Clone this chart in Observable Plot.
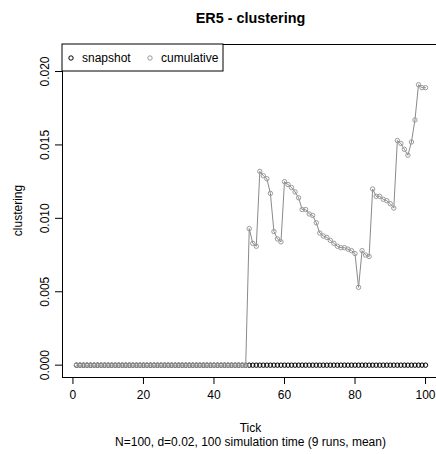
<!DOCTYPE html>
<html>
<head>
<meta charset="utf-8">
<script src="https://cdn.jsdelivr.net/npm/d3@7"></script>
<script src="https://cdn.jsdelivr.net/npm/@observablehq/plot@0.6"></script>
<style>
  html, body { margin: 0; padding: 0; background: white; }
</style>
</head>
<body>
<div id="chart"></div>
<script>
// ---- data ----
const ticks = [1,2,3,4,5,6,7,8,9,10,11,12,13,14,15,16,17,18,19,20,
  21,22,23,24,25,26,27,28,29,30,31,32,33,34,35,36,37,38,39,40,
  41,42,43,44,45,46,47,48,49,50,51,52,53,54,55,56,57,58,59,60,
  61,62,63,64,65,66,67,68,69,70,71,72,73,74,75,76,77,78,79,80,
  81,82,83,84,85,86,87,88,89,90,91,92,93,94,95,96,97,98,99,100];
const snapshot = [0,0,0,0,0,0,0,0,0,0,0,0,0,0,0,0,0,0,0,0,
  0,0,0,0,0,0,0,0,0,0,0,0,0,0,0,0,0,0,0,0,
  0,0,0,0,0,0,0,0,0,0,0,0,0,0,0,0,0,0,0,0,
  0,0,0,0,0,0,0,0,0,0,0,0,0,0,0,0,0,0,0,0,
  0,0,0,0,0,0,0,0,0,0,0,0,0,0,0,0,0,0,0,0];
const cumulative = [0,0,0,0,0,0,0,0,0,0,0,0,0,0,0,0,0,0,0,0,
  0,0,0,0,0,0,0,0,0,0,0,0,0,0,0,0,0,0,0,0,
  0,0,0,0,0,0,0,0,0,
  0.0093,0.0083,0.0081,0.0132,0.0129,0.0127,0.0117,0.0091,0.0086,0.0084,
  0.0125,0.0123,0.0121,0.0118,0.0114,0.0106,0.0106,0.0103,0.0102,0.0097,
  0.0090,0.0088,0.0087,0.0085,0.0083,0.0081,0.0080,0.0080,0.0079,0.0078,
  0.0076,0.0053,0.0078,0.0075,0.0074,0.0120,0.0115,0.0115,0.0113,0.0112,
  0.0110,0.0107,0.0153,0.0151,0.0147,0.0143,0.0152,0.0167,0.0191,0.0189,
  0.0189];
const xTicks = [0, 20, 40, 60, 80, 100];
const yTicks = [0, 0.005, 0.010, 0.015, 0.020];
const title = "ER5 - clustering";
const xLabel = "Tick";
const yLabel = "clustering";
const subLabel = "N=100, d=0.02, 100 simulation time (9 runs, mean)";
const seriesNames = ["snapshot", "cumulative"];

const snapData = ticks.map((t, i) => ({t, v: snapshot[i]}));
const cumData = ticks.map((t, i) => ({t, v: cumulative[i]}));

const W = 436, H = 454;
const mL = 62, mT = 44, mB = 77, mR = -3;
const xDom = [1 - 0.04 * 99, 100 + 0.04 * 99];
const yDom = [-0.021 * 0.04, 0.021 * 1.04];
const grayLine = "#8a8a8a";
const grayPt = "#9a9a9a";
const font = "'Liberation Sans', Arial, sans-serif";

const chart = Plot.plot({
  width: W, height: H,
  marginLeft: mL, marginTop: mT, marginBottom: mB, marginRight: mR,
  x: {domain: xDom, range: [mL, W - mR]},
  y: {domain: yDom, range: [H - mB, mT]},
  style: {fontFamily: font, fontSize: "12px", background: "white", color: "black", overflow: "hidden"},
  marks: [
    Plot.frame({stroke: "black", strokeWidth: 1}),
    Plot.axisX({ticks: xTicks, tickSize: 7, tickPadding: 6, label: null, tickFormat: d => d, fontSize: 12, stroke: "black"}),
    Plot.axisY({ticks: yTicks, tickSize: 7, tickPadding: 7, label: null, tickFormat: d3.format(".3f"), tickRotate: -90, fontSize: 12}),
    Plot.dot(snapData, {x: "t", y: "v", r: 2.2, stroke: "black", strokeWidth: 1, fill: "none"}),
    Plot.line(cumData, {x: "t", y: "v", stroke: grayLine, strokeWidth: 1}),
    Plot.dot(cumData, {x: "t", y: "v", r: 2.2, stroke: grayPt, strokeWidth: 1, fill: "none"})
  ]
});

const svg = d3.select(chart);
const cx = (mL + W - mR) / 2;
svg.append("text").attr("x", cx).attr("y", 23).attr("text-anchor", "middle")
  .attr("font-family", font).attr("font-size", 14.4).attr("font-weight", "bold").text(title);
svg.append("text").attr("x", cx).attr("y", 432).attr("text-anchor", "middle")
  .attr("font-family", font).attr("font-size", 12).text(xLabel);
svg.append("text").attr("x", cx).attr("y", 446).attr("text-anchor", "middle")
  .attr("font-family", font).attr("font-size", 12).text(subLabel);
svg.append("text").attr("transform", `translate(22,${(mT + H - mB) / 2}) rotate(-90)`)
  .attr("text-anchor", "middle").attr("font-family", font).attr("font-size", 12).text(yLabel);

// legend
const lg = svg.append("g");
lg.append("rect").attr("x", mL).attr("y", mT).attr("width", 161).attr("height", 27)
  .attr("fill", "white").attr("stroke", "black");
const entries = [{name: seriesNames[0], color: "black", cx: 71, tx: 82},
                 {name: seriesNames[1], color: grayPt, cx: 150, tx: 161}];
entries.forEach(e => {
  lg.append("circle").attr("cx", e.cx).attr("cy", mT + 14).attr("r", 2.2)
    .attr("fill", "none").attr("stroke", e.color).attr("stroke-width", 1);
  lg.append("text").attr("x", e.tx).attr("y", mT + 18).attr("text-anchor", "start")
    .attr("font-family", font).attr("font-size", 12).text(e.name);
});

document.getElementById("chart").appendChild(chart);
</script>
</body>
</html>
